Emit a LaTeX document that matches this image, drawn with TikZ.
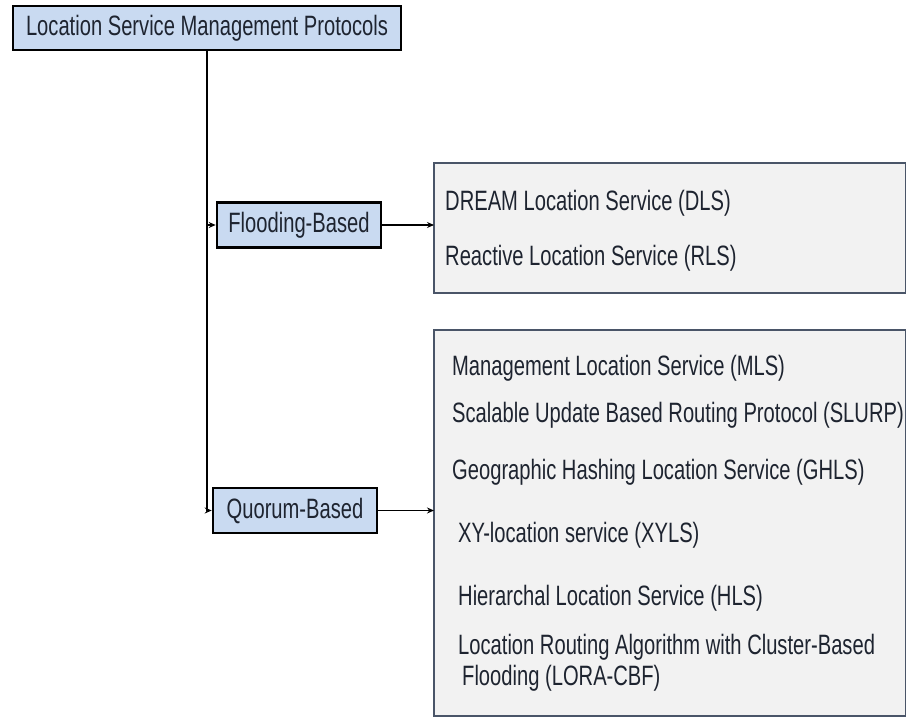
\documentclass[tikz,border=0pt]{standalone}
\usepackage{fontspec}
\setmainfont{Liberation Sans}[FakeStretch=0.72]
\usetikzlibrary{arrows.meta}
\definecolor{catfill}{HTML}{C9DAF1}
\definecolor{listfill}{HTML}{F2F2F2}
\definecolor{listedge}{HTML}{4A5568}
\definecolor{ink}{HTML}{1E2430}
\tikzset{
  catbox/.style={draw=black, line width=2.6pt, fill=catfill, text=ink,
    inner sep=0pt, font=\fontsize{28}{33}\selectfont},
  listbox/.style={draw=listedge, line width=2pt, fill=listfill},
  item/.style={anchor=west, inner sep=0pt, text=ink,
    font=\fontsize{28}{33}\selectfont},
  link/.style={line width=1.2pt, -{Stealth[length=7pt,width=6pt]}},
}
\begin{document}
\begin{tikzpicture}[x=1pt,y=-1pt]
\useasboundingbox (0,0) rectangle (906,718);

% category boxes
\node[catbox, minimum width=388pt, minimum height=44pt] (top) at (207,28)
  {Location Service Management Protocols};
\node[catbox, minimum width=164pt, minimum height=45pt] (flood) at (299,225)
  {Flooding-Based};
\node[catbox, minimum width=164pt, minimum height=45pt] (quor) at (295,510.5)
  {Quorum-Based};

% protocol lists
\draw[listbox] (434,163) rectangle (906,293);
\coordinate (floodlist) at (434,225);
\draw[listbox] (434,330) rectangle (906,716);
\coordinate (quorlist) at (434,510.5);

\node[item] (dls) at (445,203) {DREAM Location Service (DLS)};
\node[item] (rls) at (445,258) {Reactive Location Service (RLS)};

\node[item] (mls) at (452,368) {Management Location Service (MLS)};
\node[item] (slurp) at (452,415) {Scalable Update Based Routing Protocol (SLURP)};
\node[item] (ghls) at (452,472) {Geographic Hashing Location Service (GHLS)};
\node[item] (xyls) at (458,535) {XY-location service (XYLS)};
\node[item] (hls) at (458,598) {Hierarchal Location Service (HLS)};
\node[item] (lora1) at (458,647) {Location Routing Algorithm with Cluster-Based};
\node[item] (lora2) at (462,678) {Flooding (LORA-CBF)};

% connectors
\draw[link] (top.south) |- (quor.west);
\draw[link] (top.south |- flood.west) -- (flood.west);
\draw[link] (flood.east) -- (floodlist);
\draw[link] (quor.east) -- (quorlist);
\end{tikzpicture}
\end{document}
